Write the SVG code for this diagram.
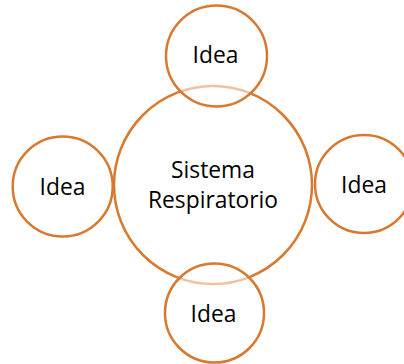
<svg xmlns="http://www.w3.org/2000/svg" width="404" height="364" viewBox="0 0 404 364">
<style>
.c{stroke:#D9782F;stroke-width:2.5}
.big{fill:#fff}
.sm{fill:#fff;fill-opacity:0.55}
text{font-family:"Open Sans","Liberation Sans",sans-serif;font-size:22.8px;fill:#000;text-anchor:middle}
</style>
<rect width="404" height="364" fill="#fff"/>
<g id="center"><circle class="c big" cx="213" cy="185" r="99"/><text x="213" y="178">Sistema</text><text x="213" y="208">Respiratorio</text></g>
<g id="top"><circle class="c sm" cx="216.5" cy="56" r="50.5"/><text x="215.5" y="63">Idea</text></g>
<g id="left"><circle class="c sm" cx="62.7" cy="186.5" r="50"/><text x="62.5" y="195">Idea</text></g>
<g id="right"><circle class="c sm" cx="364" cy="184" r="49"/><text x="364" y="193">Idea</text></g>
<g id="bottom"><circle class="c sm" cx="214.5" cy="313" r="49.5"/><text x="213.5" y="322">Idea</text></g>
<g id="connectors"/>
</svg>
